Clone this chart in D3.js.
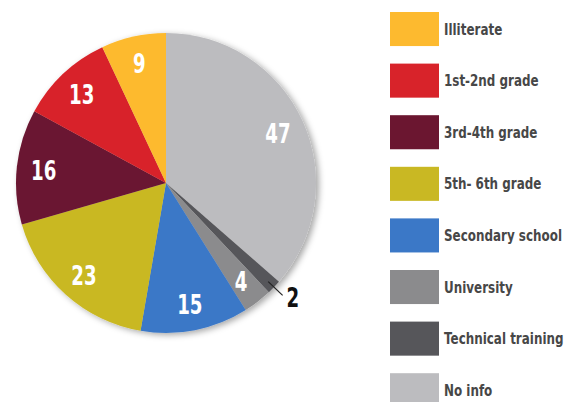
<!DOCTYPE html>
<html><head><meta charset="utf-8">
<script src="https://cdn.jsdelivr.net/npm/d3@7"></script>
<style>body{margin:0;background:#fff}svg{display:block}</style>
</head><body>
<svg id="c" width="565" height="402"></svg>
<script>
const categories = ["Illiterate","1st-2nd grade","3rd-4th grade","5th- 6th grade","Secondary school","University","Technical training","No info"];
const values = [9,13,16,23,15,4,2,47];
const colors = ["#FDBA2F","#D8232A","#6B1630","#C9B823","#3B78C7","#8B8B8D","#56565A","#BCBCBF"];

const svg = d3.select("#c");
const cx = 166, cy = 183, R = 150;
const defs = svg.append("defs");
const f = defs.append("filter").attr("id","sh").attr("x","-20%").attr("y","-20%").attr("width","140%").attr("height","140%");
f.append("feDropShadow").attr("dx",3).attr("dy",2).attr("stdDeviation",3).attr("flood-color","#000").attr("flood-opacity",0.35);

const idx = d3.range(categories.length).reverse();
const pie = d3.pie().sort(null).value(i => values[i]);
const arcs = pie(idx);
const arc = d3.arc().innerRadius(0).outerRadius(R);
const labelArc = d3.arc().innerRadius(123).outerRadius(123);

const g = svg.append("g").attr("transform",`translate(${cx},${cy})`);
g.append("g").attr("filter","url(#sh)").selectAll("path").data(arcs).join("path")
  .attr("d",arc).attr("fill",d => colors[d.data]);

const font = "'DejaVu Sans',sans-serif";
g.selectAll("text.v").data(arcs.filter(d => values[d.data] >= 4)).join("text")
  .attr("class","v")
  .attr("transform",d => { const c = labelArc.centroid(d); return `translate(${c[0]},${c[1]+1}) scale(0.7,1)`; })
  .attr("text-anchor","middle").attr("dy","0.36em")
  .attr("font-family",font).attr("font-weight","bold").attr("font-size",26)
  .attr("fill","#fff").text(d => values[d.data]);

// small slice leader
arcs.filter(d => values[d.data] < 4).forEach(d => {
  const a = (d.startAngle + d.endAngle)/2;
  const p1 = [Math.sin(a)*(R-8), -Math.cos(a)*(R-8)];
  const p2 = [Math.sin(a)*(R+12), -Math.cos(a)*(R+12)];
  g.append("line").attr("x1",p1[0]).attr("y1",p1[1]).attr("x2",p2[0]).attr("y2",p2[1])
    .attr("stroke","#222").attr("stroke-width",1.2);
  g.append("text").attr("transform",`translate(${p2[0]+4},${p2[1]+12}) scale(0.7,1)`)
    .attr("font-family",font).attr("font-weight","bold").attr("font-size",26)
    .attr("fill","#111").text(values[d.data]);
});

const step = 51.6, pad = 0.34;
const y = d3.scaleBand().domain(categories).range([12, 12 + step*(categories.length - pad)]).paddingInner(pad).paddingOuter(0);
const lg = svg.append("g");
const items = lg.selectAll("g").data(categories).join("g")
  .attr("transform", d => `translate(390,${y(d)})`);
items.append("rect").attr("width",49).attr("height",y.bandwidth()).attr("fill",(d,i)=>colors[i]);
items.append("text").attr("transform",`translate(54,${y.bandwidth()/2}) scale(0.77,1)`).attr("dy","0.36em")
  .attr("font-family",font).attr("font-weight","bold").attr("font-size",15.5)
  .attr("fill","#474747").text(d => d);
</script>
</body></html>
